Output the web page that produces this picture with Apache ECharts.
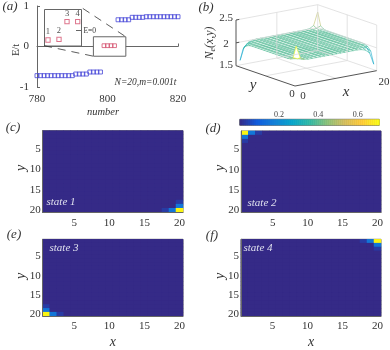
<!DOCTYPE html>
<html>
<head>
<meta charset="utf-8">
<style>
html,body{margin:0;padding:0;background:#fff}
#chart{width:390px;height:350px}
</style>
<script src="https://cdn.jsdelivr.net/npm/echarts@6/dist/echarts.min.js"></script>
</head>
<body>
<div id="chart"></div>
<script>
// panel (a) spectrum
const lowerNumbers = [780,781,782,783,784,785,786,787,788,789,790,791,792,793,794,795,796,797,798];
const lowerEnergies = [-0.72,-0.72,-0.72,-0.72,-0.72,-0.72,-0.72,-0.72,-0.72,-0.72,-0.72,-0.68,-0.68,-0.68,-0.68,-0.63,-0.63,-0.63,-0.63];
const middleNumbers = [799,800,801,802];
const middleEnergies = [0.02,0.02,0.02,0.02];
const upperNumbers = [803,804,805,806,807,808,809,810,811,812,813,814,815,816,817,818,819,820];
const upperEnergies = [0.66,0.66,0.66,0.66,0.72,0.72,0.72,0.72,0.735,0.735,0.735,0.735,0.735,0.735,0.735,0.735,0.735,0.735];
// panel (a) inset, zoomed on the four middle states
const insetStates = [1.0,2.07,2.85,3.89];
const insetEnergies = [-0.93,-0.86,0.9,0.9];
const connectorOne = [[793,0.94],[805.2,0.24]];
const connectorTwo = [[782,0.02],[796,-0.24]];

// panel (b) N_e, rows y=1..20, columns x=1..20
const densityRows = [
  [2.33,2.06,2.01,2.00,2.00,2.00,2.00,2.00,2.00,2.00,2.00,2.00,2.00,2.00,2.00,2.00,1.99,1.96,1.88,1.62],
  [2.06,2.02,2.00,2.00,2.00,2.00,2.00,2.00,2.00,2.00,2.00,2.00,2.00,2.00,2.00,2.00,2.00,1.99,1.97,1.88],
  [2.01,2.00,2.00,2.00,2.00,2.00,2.00,2.00,2.00,2.00,2.00,2.00,2.00,2.00,2.00,2.00,2.00,2.00,1.99,1.96],
  [2.00,2.00,2.00,2.00,2.00,2.00,2.00,2.00,2.00,2.00,2.00,2.00,2.00,2.00,2.00,2.00,2.00,2.00,2.00,1.99],
  [2.00,2.00,2.00,2.00,2.00,2.00,2.00,2.00,2.00,2.00,2.00,2.00,2.00,2.00,2.00,2.00,2.00,2.00,2.00,2.00],
  [2.00,2.00,2.00,2.00,2.00,2.00,2.00,2.00,2.00,2.00,2.00,2.00,2.00,2.00,2.00,2.00,2.00,2.00,2.00,2.00],
  [2.00,2.00,2.00,2.00,2.00,2.00,2.00,2.00,2.00,2.00,2.00,2.00,2.00,2.00,2.00,2.00,2.00,2.00,2.00,2.00],
  [2.00,2.00,2.00,2.00,2.00,2.00,2.00,2.00,2.00,2.00,2.00,2.00,2.00,2.00,2.00,2.00,2.00,2.00,2.00,2.00],
  [2.00,2.00,2.00,2.00,2.00,2.00,2.00,2.00,2.00,2.00,2.00,2.00,2.00,2.00,2.00,2.00,2.00,2.00,2.00,2.00],
  [2.00,2.00,2.00,2.00,2.00,2.00,2.00,2.00,2.00,2.00,2.00,2.00,2.00,2.00,2.00,2.00,2.00,2.00,2.00,2.00],
  [2.00,2.00,2.00,2.00,2.00,2.00,2.00,2.00,2.00,2.00,2.00,2.00,2.00,2.00,2.00,2.00,2.00,2.00,2.00,2.00],
  [2.00,2.00,2.00,2.00,2.00,2.00,2.00,2.00,2.00,2.00,2.00,2.00,2.00,2.00,2.00,2.00,2.00,2.00,2.00,2.00],
  [2.00,2.00,2.00,2.00,2.00,2.00,2.00,2.00,2.00,2.00,2.00,2.00,2.00,2.00,2.00,2.00,2.00,2.00,2.00,2.00],
  [2.00,2.00,2.00,2.00,2.00,2.00,2.00,2.00,2.00,2.00,2.00,2.00,2.00,2.00,2.00,2.00,2.00,2.00,2.00,2.00],
  [2.00,2.00,2.00,2.00,2.00,2.00,2.00,2.00,2.00,2.00,2.00,2.00,2.00,2.00,2.00,2.00,2.00,2.00,2.00,2.00],
  [2.00,2.00,2.00,2.00,2.00,2.00,2.00,2.00,2.00,2.00,2.00,2.00,2.00,2.00,2.00,2.00,2.00,2.00,2.00,2.00],
  [1.99,2.00,2.00,2.00,2.00,2.00,2.00,2.00,2.00,2.00,2.00,2.00,2.00,2.00,2.00,2.00,2.00,2.00,2.00,2.00],
  [1.96,1.99,2.00,2.00,2.00,2.00,2.00,2.00,2.00,2.00,2.00,2.00,2.00,2.00,2.00,2.00,2.00,2.00,2.00,2.01],
  [1.87,1.97,1.99,2.00,2.00,2.00,2.00,2.00,2.00,2.00,2.00,2.00,2.00,2.00,2.00,2.00,2.00,2.00,2.02,2.06],
  [1.60,1.87,1.96,1.99,2.00,2.00,2.00,2.00,2.00,2.00,2.00,2.00,2.00,2.00,2.00,2.00,2.00,2.01,2.06,2.34]
];

// panels (c)-(f): cells that differ from zero, [x, y, value]
const sites = [1,2,3,4,5,6,7,8,9,10,11,12,13,14,15,16,17,18,19,20];
const stateOneCells = [[20,20,0.7],[20,19,0.15],[19,20,0.15],[20,18,0.03],[18,20,0.03]];
const stateTwoCells = [[1,1,0.7],[2,1,0.15],[1,2,0.15],[3,1,0.03],[1,3,0.03]];
const stateThreeCells = [[1,20,0.7],[1,19,0.15],[2,20,0.15],[1,18,0.03],[3,20,0.03]];
const stateFourCells = [[20,1,0.7],[20,2,0.15],[19,1,0.15],[20,3,0.03],[18,1,0.03]];

const parula = ['#352a87','#0f5cdd','#1481d6','#06a4ca','#2eb7a4','#87bf77','#d1bb59','#fec832','#f9fb0e'];
const serif = '"Liberation Serif", serif';
const axisGray = '#666';

// projection of panel (b) box onto its flat grid
function project(x, y, z) {
  return [295 + 4.085 * x - 2.95 * y, 86 - 0.765 * x - 1.015 * y - (z - 1.5) * 45.7];
}
function segments(list) {
  let out = [];
  list.forEach(function (s) {
    out.push(project(s[0], s[1], s[2]), project(s[3], s[4], s[5]), ['-', '-']);
  });
  return out;
}
const wallLines = segments([
  [0,20,2.5,20,20,2.5],[20,20,2.5,20,0,2.5],
  [20,20,1.5,20,20,2.5],[20,0,1.5,20,0,2.5],
  [10,20,1.5,10,20,2.5],[20,10,1.5,20,10,2.5],
  [0,20,2,20,20,2],[20,20,2,20,0,2],
  [0,20,1.5,20,20,1.5],[20,20,1.5,20,0,1.5],
  [10,0,1.5,10,20,1.5],[0,10,1.5,20,10,1.5]
]);
const boxLines = segments([
  [0,20,1.5,0,0,1.5],[0,0,1.5,20,0,1.5],[0,20,1.5,0,20,2.5],
  [0,20,2,0.8,20,2],[0,20,2.5,0.8,20,2.5]
]);

let surfaceCells = [];
for (let s = 36; s >= 0; s--) {
  for (let i = 0; i < 19; i++) {
    let j = s - i;
    if (j < 0 || j > 18) continue;
    let avg = (densityRows[j][i] + densityRows[j][i + 1] + densityRows[j + 1][i] + densityRows[j + 1][i + 1]) / 4;
    surfaceCells.push([i, j, Math.max(densityRows[j][i], avg)]);
  }
}

let colorBins = [];
for (let i = 0; i < 70; i++) {
  colorBins.push([i * 0.71 / 70, (i + 1) * 0.71 / 70, (i + 0.5) * 0.71 / 70]);
}

function fillCells(cells) {
  let out = [];
  sites.forEach(function (y) {
    sites.forEach(function (x) {
      let hit = cells.find(function (c) { return c[0] === x && c[1] === y; });
      out.push([x - 1, y - 1, hit ? hit[2] : 0]);
    });
  });
  return out;
}

function txt(text, x, y, size, extra) {
  return {
    type: 'text', x: x, y: y, rotation: extra && extra.rotation || 0, z: 20,
    style: Object.assign({
      text: text, font: (extra && extra.font || '') + ' ' + size + 'px ' + serif,
      fill: extra && extra.fill || '#333', align: 'center', verticalAlign: 'middle'
    }, extra && extra.style)
  };
}
const ital = { font: 'italic' };
const sideways = { font: 'italic', rotation: Math.PI / 2 };
const labels = [
  txt('(a)', 10, 7, 13, ital), txt('(b)', 206, 8, 13, ital),
  txt('(c)', 13, 128, 13, ital), txt('(d)', 213, 129, 13, ital),
  txt('(e)', 14, 235, 13, ital), txt('(f)', 212, 236, 13, ital),
  txt('E/t', 16, 50, 10.5, { rotation: Math.PI / 2 }),
  txt('number', 103, 112, 10.5, ital),
  txt('N=20,m=0.001t', 145.5, 82, 9.5, ital),
  txt('2.5', 226, 18, 11), txt('2', 226, 44, 11), txt('1.5', 226, 65, 11),
  txt('0', 292, 94, 11), txt('0', 303, 96, 11), txt('20', 384, 82, 11),
  txt('y', 253, 85, 15, ital), txt('x', 346, 92, 15, ital),
  txt('y', 21, 168, 14, sideways), txt('y', 220, 168, 14, sideways),
  txt('y', 21, 276, 14, sideways), txt('y', 220, 276, 14, sideways),
  {
    type: 'text', x: 210, y: 43, rotation: Math.PI / 2, z: 20,
    style: {
      text: '{a|N}{b|e}{a|(x,y)}', align: 'center', verticalAlign: 'middle', fill: '#333',
      rich: {
        a: { font: 'italic 12px ' + serif, fill: '#333' },
        b: { font: 'italic 8px ' + serif, fill: '#333', verticalAlign: 'bottom', padding: [5, 0, 0, 0] }
      }
    }
  },
  txt('state 1', 61, 202, 11, { font: 'italic', fill: '#dfe0ee' }),
  txt('state 2', 262, 203, 11, { font: 'italic', fill: '#dfe0ee' }),
  txt('state 3', 64, 248, 11, { font: 'italic', fill: '#dfe0ee' }),
  txt('state 4', 258, 248, 11, { font: 'italic', fill: '#dfe0ee' })
];

function every5(i) { return (i + 1) % 5 === 0; }
function heatAxes(gridIndex, showX) {
  return {
    x: {
      type: 'category', gridIndex: gridIndex, data: sites, z: 5,
      name: showX ? 'x' : '', nameLocation: 'middle', nameGap: 19,
      nameTextStyle: { fontFamily: serif, fontStyle: 'italic', fontSize: 14, color: '#333' },
      axisLine: { lineStyle: { color: axisGray } },
      axisTick: { inside: true, alignWithLabel: true, length: 2, interval: function (i) { return every5(i); }, lineStyle: { color: '#222' } },
      axisLabel: { interval: function (i) { return every5(i); }, fontFamily: serif, fontSize: 11, color: '#333', margin: 5 },
      splitLine: { show: false }
    },
    y: {
      type: 'category', gridIndex: gridIndex, data: sites, inverse: true, z: 5,
      axisLine: { lineStyle: { color: axisGray } },
      axisTick: { inside: true, alignWithLabel: true, length: 2, interval: function (i) { return every5(i); }, lineStyle: { color: '#222' } },
      axisLabel: { interval: function (i) { return every5(i); }, fontFamily: serif, fontSize: 11, color: '#333', margin: 2 },
      splitLine: { show: false }
    }
  };
}
const heatC = heatAxes(3, false), heatD = heatAxes(4, false), heatE = heatAxes(5, true), heatF = heatAxes(6, true);

const openSquare = function (color) {
  return { color: 'transparent', borderColor: color, borderWidth: 1 };
};
function heatSeries(i, cells) {
  return { type: 'heatmap', xAxisIndex: i, yAxisIndex: i, data: fillCells(cells), progressive: 0, emphasis: { disabled: true } };
}
function planeLines(data, color, width) {
  return {
    type: 'line', xAxisIndex: 2, yAxisIndex: 2, data: data, symbol: 'none', silent: true,
    connectNulls: false, clip: false, lineStyle: { color: color, width: width }
  };
}

const chart = echarts.init(document.getElementById('chart'), null, { renderer: 'canvas' });
chart.setOption({
  animation: false,
  backgroundColor: '#fff',
  graphic: { elements: labels },
  visualMap: [
    { show: false, type: 'continuous', min: 0, max: 0.71, dimension: 2, seriesIndex: [8, 9, 10, 11, 12], inRange: { color: parula } },
    { show: false, type: 'continuous', min: 1.6, max: 2.33, dimension: 2, seriesIndex: [7], inRange: { color: parula } }
  ],
  grid: [
    { left: 37, top: 6, width: 141, height: 81 },
    { left: 44.5, top: 9.5, width: 37, height: 36.5, show: true, backgroundColor: '#fff', borderColor: axisGray, borderWidth: 1, z: 3 },
    { left: 200, top: 0, width: 190, height: 100 },
    { left: 42.7, top: 130.7, width: 140.3, height: 81.6, show: true, backgroundColor: parula[0], borderColor: axisGray },
    { left: 241.3, top: 131, width: 139.7, height: 81.3, show: true, backgroundColor: parula[0], borderColor: axisGray },
    { left: 42.7, top: 239.3, width: 140.3, height: 81, show: true, backgroundColor: parula[0], borderColor: axisGray },
    { left: 241, top: 239.3, width: 140, height: 81, show: true, backgroundColor: parula[0], borderColor: axisGray },
    { left: 239.7, top: 119.3, width: 139.6, height: 6, show: true, borderColor: axisGray }
  ],
  xAxis: [
    {
      type: 'value', gridIndex: 0, min: 780, max: 820, interval: 20,
      axisLine: { lineStyle: { color: axisGray } },
      axisTick: { inside: true, length: 3, lineStyle: { color: axisGray } },
      axisLabel: { fontFamily: serif, fontSize: 11, color: '#333', margin: 7 },
      splitLine: { show: false }
    },
    {
      type: 'value', gridIndex: 1, min: 0.66, max: 4.26, z: 4,
      axisLine: { show: false }, axisTick: { show: false }, axisLabel: { show: false }, splitLine: { show: false }
    },
    { type: 'value', gridIndex: 2, min: 200, max: 390, show: false },
    heatC.x, heatD.x, heatE.x, heatF.x,
    {
      type: 'value', gridIndex: 7, min: 0, max: 0.71, position: 'top', interval: 0.2,
      axisLine: { show: false }, axisTick: { show: false }, splitLine: { show: false },
      axisLabel: {
        fontFamily: serif, fontSize: 8, color: '#444', margin: 0, showMinLabel: false, showMaxLabel: false,
        formatter: function (v) { return v.toFixed(1); }
      }
    }
  ],
  yAxis: [
    {
      type: 'value', gridIndex: 0, min: -1, max: 1, interval: 1,
      axisLine: { show: true, lineStyle: { color: axisGray } },
      axisTick: { show: true, inside: true, length: 3, lineStyle: { color: axisGray } },
      axisLabel: { fontFamily: serif, fontSize: 11, color: '#333', margin: 8 },
      splitLine: { show: false }
    },
    {
      type: 'value', gridIndex: 1, min: -1.53, max: 2.12, position: 'right', z: 4,
      axisLine: { show: false },
      axisTick: { show: true, inside: true, length: 5.5, customValues: [0], lineStyle: { color: axisGray } },
      axisLabel: { fontFamily: serif, fontSize: 7.5, color: '#333', margin: 2, customValues: [0], formatter: function () { return 'E=0'; } },
      splitLine: { show: false }
    },
    { type: 'value', gridIndex: 2, min: 0, max: 100, inverse: true, show: false },
    heatC.y, heatD.y, heatE.y, heatF.y,
    { type: 'value', gridIndex: 7, min: 0, max: 1, show: false }
  ],
  series: [
    {
      type: 'scatter', xAxisIndex: 0, yAxisIndex: 0, clip: false, symbol: 'rect', symbolSize: 4,
      itemStyle: openSquare('#4646d8'),
      data: lowerNumbers.map(function (n, i) { return [n, lowerEnergies[i]]; })
    },
    {
      type: 'scatter', xAxisIndex: 0, yAxisIndex: 0, clip: false, symbol: 'rect', symbolSize: 4,
      itemStyle: openSquare('#4646d8'),
      data: upperNumbers.map(function (n, i) { return [n, upperEnergies[i]]; })
    },
    {
      // zoom box around the middle states, drawn behind them
      type: 'scatter', xAxisIndex: 0, yAxisIndex: 0, clip: false, symbol: 'rect', symbolSize: 3.8, z: 4,
      itemStyle: openSquare('#d4506e'),
      data: middleNumbers.map(function (n, i) { return [n, middleEnergies[i]]; }),
      markArea: {
        silent: true, z: 1,
        itemStyle: { color: '#fff', borderColor: axisGray, borderWidth: 1 },
        data: [[{ coord: [796, -0.24] }, { coord: [805.2, 0.24] }]]
      }
    },
    {
      type: 'line', xAxisIndex: 0, yAxisIndex: 0, data: connectorOne, symbol: 'none', z: 3,
      lineStyle: { color: '#333', width: 0.8, type: [8, 6] }
    },
    {
      type: 'line', xAxisIndex: 0, yAxisIndex: 0, data: connectorTwo, symbol: 'none', z: 3,
      lineStyle: { color: '#333', width: 0.8, type: [8, 6] }
    },
    {
      type: 'scatter', xAxisIndex: 1, yAxisIndex: 1, clip: false, symbol: 'rect', symbolSize: 4.3, z: 5,
      itemStyle: openSquare('#d4506e'),
      label: {
        show: true, position: 'top', distance: 1, fontFamily: serif, fontSize: 8.5, color: '#222',
        formatter: function (p) { return p.dataIndex + 1; }
      },
      data: insetStates.map(function (s, i) { return [s, insetEnergies[i]]; })
    },
    planeLines(wallLines, '#dcdcdc', 0.8),
    {
      type: 'custom', xAxisIndex: 2, yAxisIndex: 2, clip: false, z: 3, silent: true,
      data: surfaceCells,
      renderItem: function (params, api) {
        let i = api.value(0), j = api.value(1);
        let corners = [[i, j], [i + 1, j], [i + 1, j + 1], [i, j + 1]].map(function (c) {
          return api.coord(project(c[0] + 1, c[1] + 1, densityRows[c[1]][c[0]]));
        });
        return {
          type: 'polygon', shape: { points: corners },
          style: { fill: '#fff', stroke: api.visual('color'), lineWidth: 0.55 }
        };
      }
    },
    heatSeries(3, stateOneCells),
    heatSeries(4, stateTwoCells),
    heatSeries(5, stateThreeCells),
    heatSeries(6, stateFourCells),
    {
      type: 'custom', xAxisIndex: 7, yAxisIndex: 7, silent: true, data: colorBins,
      encode: { x: [0, 1] },
      renderItem: function (params, api) {
        let a = api.coord([api.value(0), 0]), b = api.coord([api.value(1), 1]);
        return {
          type: 'rect', shape: { x: a[0], y: b[1], width: b[0] - a[0] + 0.4, height: a[1] - b[1] },
          style: { fill: api.visual('color') }
        };
      }
    },
    planeLines(boxLines, '#555', 1)
  ]
});
</script>
</body>
</html>
